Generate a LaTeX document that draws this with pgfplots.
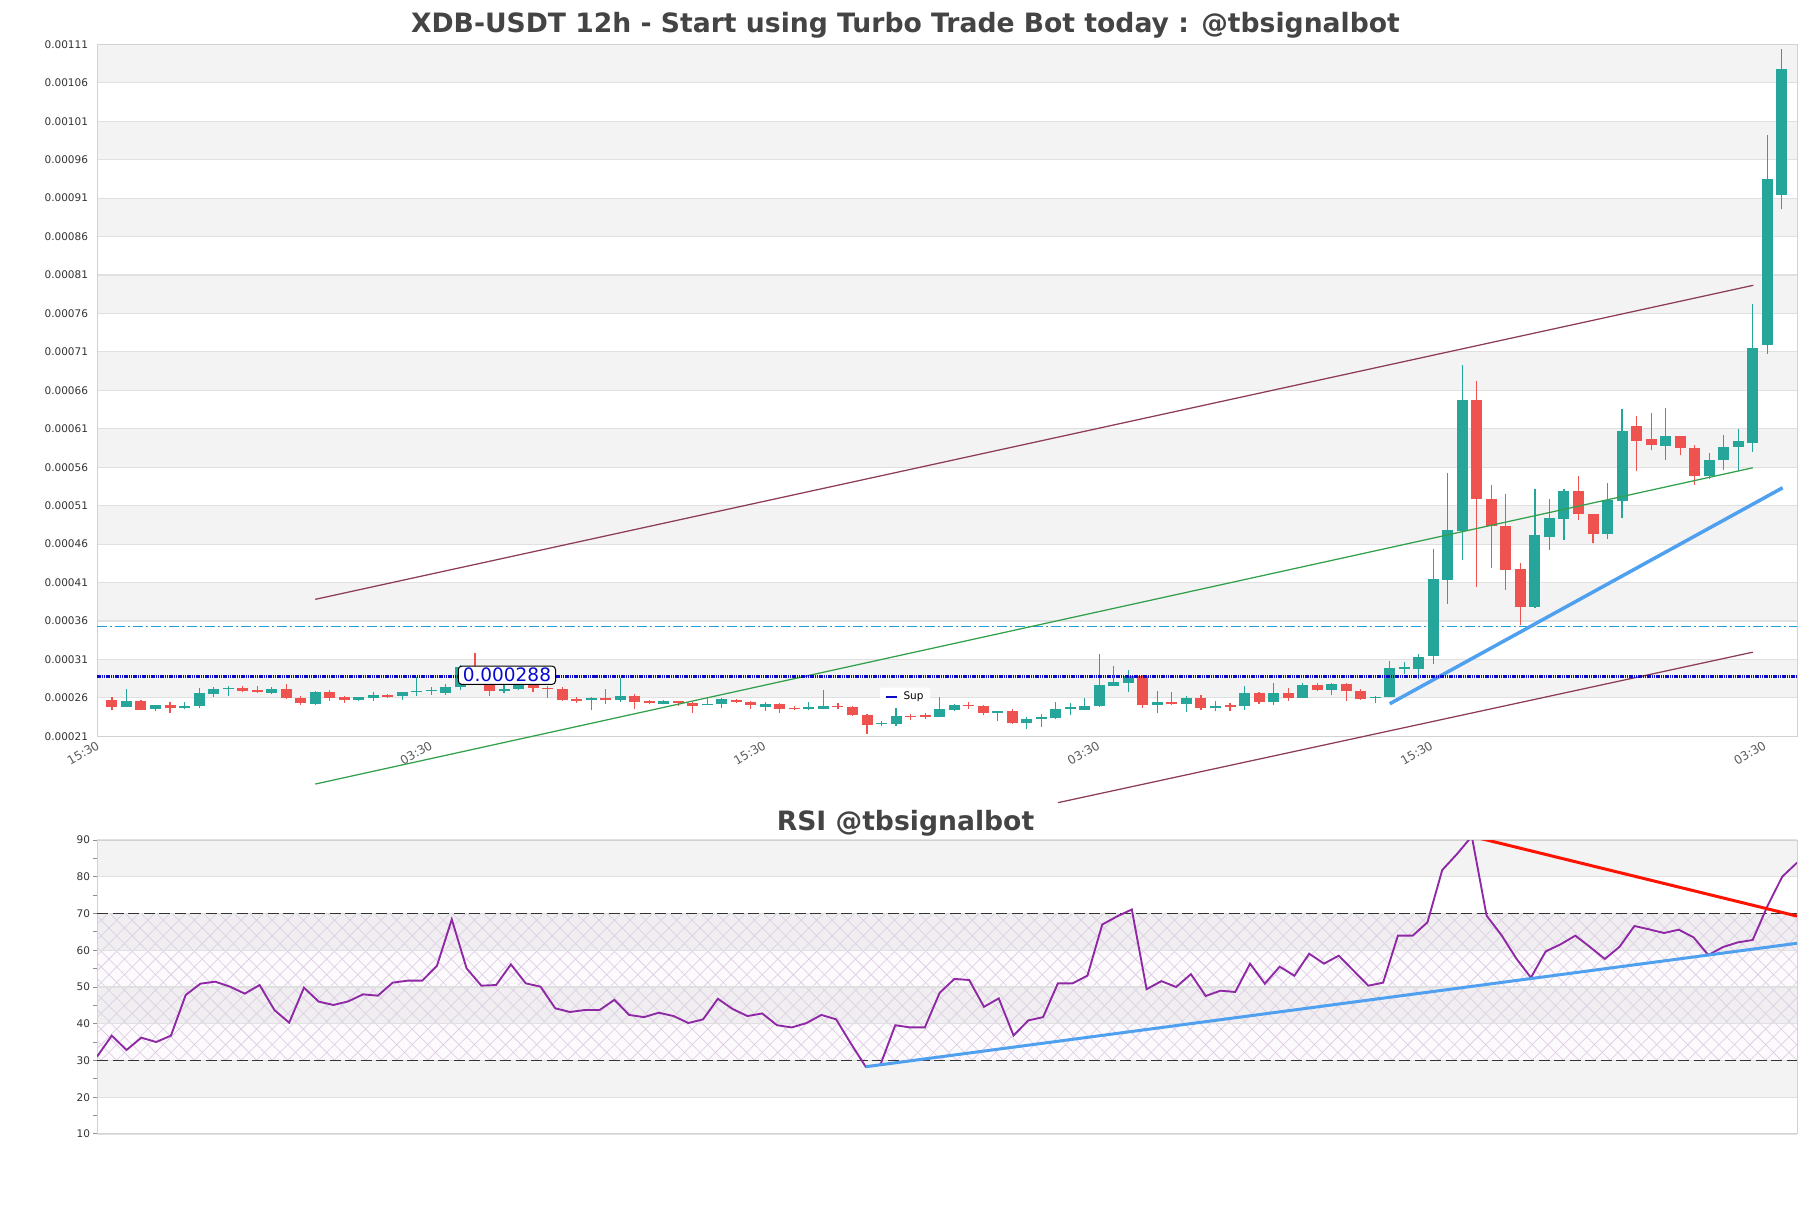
\documentclass[border=0pt]{standalone}
\usepackage{fontspec}
\setmainfont{DejaVu Sans}
\usepackage{pgfplots}
\pgfplotsset{compat=1.18}
\usepackage{pgfplotstable}
\usetikzlibrary{patterns.meta}

\definecolor{upc}{HTML}{26A69A}
\definecolor{dnc}{HTML}{EF5350}
\definecolor{band}{HTML}{F3F3F3}
\definecolor{gridc}{HTML}{E0E0E0}
\definecolor{framec}{HTML}{D2D2D2}
\definecolor{titlec}{HTML}{444444}
\definecolor{labc}{HTML}{333333}
\definecolor{chan}{RGB}{140,60,85}
\definecolor{trendg}{RGB}{50,160,75}
\definecolor{trendb}{RGB}{80,160,240}
\definecolor{rsic}{RGB}{142,40,165}
\definecolor{supc}{RGB}{10,10,200}
\definecolor{resc}{RGB}{30,160,210}
\definecolor{hatchc}{RGB}{222,208,228}

% prices in units of 1e-5 USDT, 12h candles
\pgfplotstableread{
i o h l c
0 25.74 26.09 24.38 24.80
1 24.76 27.15 24.76 25.66
2 25.66 25.79 24.38 24.46
3 24.59 25.10 24.33 25.10
4 25.10 25.44 24.03 24.72
5 24.72 25.53 24.50 24.97
6 24.89 27.24 24.72 26.60
7 26.56 27.37 26.17 27.15
8 27.15 27.50 26.30 27.28
9 27.28 27.50 26.73 26.90
10 27.07 27.50 26.68 26.73
11 26.68 27.37 26.51 27.11
12 27.15 27.79 25.87 25.96
13 25.96 26.30 25.02 25.32
14 25.15 26.94 25.10 26.73
15 26.73 27.03 25.57 26.04
16 26.09 26.30 25.36 25.74
17 25.74 26.17 25.57 26.09
18 26.04 26.73 25.66 26.38
19 26.38 26.56 26.00 26.17
20 26.21 26.81 25.79 26.73
21 26.73 28.78 26.21 26.90
22 26.85 27.45 26.43 26.90
23 26.68 27.79 26.43 27.41
24 27.40 30.30 27.00 30.00
25 28.00 31.90 27.80 27.85
26 28.00 28.05 26.30 26.94
27 26.94 27.70 26.60 27.15
28 27.10 28.40 27.00 28.10
29 28.00 28.20 26.73 27.24
30 27.24 27.58 25.96 27.15
31 27.15 27.37 25.66 25.79
32 25.83 26.17 25.36 25.66
33 25.74 26.09 24.38 25.87
34 25.83 27.15 25.23 25.74
35 25.79 28.65 25.44 26.21
36 26.21 26.51 24.59 25.44
37 25.57 25.79 25.15 25.32
38 25.27 25.79 25.15 25.66
39 25.57 25.66 24.93 25.32
40 25.36 25.44 24.03 24.89
41 25.02 26.09 25.02 25.10
42 25.15 25.96 24.68 25.87
43 25.74 25.87 25.32 25.44
44 25.53 25.66 24.59 25.02
45 24.85 25.44 24.29 25.27
46 25.23 25.36 24.08 24.59
47 24.72 24.93 24.42 24.55
48 24.55 25.53 24.46 24.76
49 24.59 27.03 24.55 24.93
50 24.93 25.36 24.59 24.80
51 24.80 24.93 23.65 23.74
52 23.82 23.95 21.30 22.54
53 22.58 22.97 22.32 22.79
54 22.67 24.68 22.32 23.65
55 23.61 23.95 23.09 23.48
56 23.60 24.08 23.22 23.55
57 23.48 26.09 23.48 24.59
58 24.46 25.19 24.29 25.10
59 25.06 25.44 24.50 24.89
60 24.93 25.10 23.74 24.03
61 24.03 24.29 23.00 24.29
62 24.29 24.59 22.67 22.75
63 22.75 23.52 21.94 23.31
64 23.31 23.91 22.24 23.48
65 23.35 25.44 23.26 24.59
66 24.59 25.32 23.74 24.72
67 24.46 26.00 24.38 24.97
68 24.89 31.77 24.80 27.67
69 27.58 30.15 27.50 28.09
70 28.00 29.59 26.73 28.86
71 28.86 28.95 24.68 25.02
72 25.02 26.90 24.03 25.44
73 25.44 26.73 25.02 25.15
74 25.15 26.21 24.16 26.00
75 26.00 26.43 24.46 24.68
76 24.68 25.57 24.25 24.93
77 24.93 25.36 24.33 24.85
78 24.89 27.58 24.38 26.60
79 26.60 26.73 25.19 25.44
80 25.44 27.88 25.02 26.60
81 26.60 27.24 25.57 26.04
82 26.04 28.00 25.96 27.67
83 27.67 27.88 26.85 27.07
84 27.07 27.92 26.38 27.80
85 27.75 28.00 25.66 26.85
86 26.85 27.15 25.79 25.87
87 25.96 26.30 25.32 26.13
88 26.10 30.74 26.10 29.87
89 29.80 30.66 29.14 29.87
90 29.79 31.74 28.40 31.30
91 31.39 45.31 30.44 41.49
92 41.40 55.28 38.24 47.86
93 47.69 69.32 44.00 64.68
94 64.77 67.28 40.40 51.89
95 51.89 53.70 42.88 48.30
96 48.30 52.54 40.10 42.70
97 42.79 43.57 35.42 37.89
98 37.89 53.20 37.68 47.13
99 46.99 51.81 45.30 49.42
100 49.29 53.20 46.56 52.93
101 52.93 54.84 49.20 49.86
102 49.94 49.94 46.13 47.26
103 47.26 53.98 46.61 51.68
104 51.55 63.60 49.42 60.65
105 61.30 62.60 55.45 59.35
106 59.70 63.08 58.18 58.83
107 58.70 63.73 57.00 60.04
108 60.04 60.04 57.53 58.48
109 58.53 58.92 53.70 54.84
110 54.84 57.83 54.50 56.97
111 56.88 60.22 55.70 58.61
112 58.61 61.00 55.45 59.39
113 59.17 77.27 58.04 71.49
114 71.84 99.27 70.76 93.54
115 91.37 110.34 89.55 107.74
}\candles

\pgfplotstableread{
i r
0 31.04
1 36.76
2 32.86
3 36.21
4 35.03
5 36.76
6 47.83
7 50.91
8 51.45
9 50.09
10 48.19
11 50.54
12 43.74
13 40.29
14 49.82
15 46.01
16 45.10
17 46.10
18 48.00
19 47.64
20 51.18
21 51.72
22 51.72
23 55.80
24 68.41
25 55.08
26 50.36
27 50.54
28 56.17
29 51.00
30 50.09
31 44.20
32 43.20
33 43.74
34 43.74
35 46.50
36 42.40
37 41.80
38 43.00
39 42.10
40 40.20
41 41.20
42 46.80
43 44.00
44 42.10
45 42.80
46 39.60
47 39.00
48 40.20
49 42.40
50 41.20
51 34.60
52 28.30
53 28.90
54 39.60
55 39.00
56 39.00
57 48.40
58 52.20
59 51.90
60 44.60
61 46.90
62 36.80
63 40.90
64 41.80
65 51.00
66 51.00
67 53.10
68 67.00
69 69.20
70 71.10
71 49.40
72 51.60
73 50.00
74 53.50
75 47.55
76 49.00
77 48.64
78 56.35
79 50.91
80 55.53
81 53.08
82 59.07
83 56.35
84 58.53
85 54.44
86 50.36
87 51.18
88 63.97
89 63.97
90 67.60
91 81.84
92 86.19
93 91.00
94 69.41
95 64.15
96 57.80
97 52.54
98 59.70
99 61.60
100 63.97
101 60.88
102 57.62
103 60.97
104 66.60
105 65.69
106 64.69
107 65.60
108 63.51
109 58.71
110 60.88
111 62.15
112 62.79
113 72.04
114 80.02
115 83.83
}\rsi

\newcommand{\ticksize}{\fontsize{4.2}{5}\selectfont}
\pgfplotsset{
  candle/.style={only marks, mark=*, mark size=0pt,
    mark options={draw=none, fill=none},
    error bars/y dir=plus, error bars/y explicit, error bars/error mark=none,
    error bars/error bar style={#1}},
}

\begin{document}
\begin{tikzpicture}

% ---------- price panel ----------
\begin{axis}[
  at={(38.8pt,188.64pt)}, anchor=south west,
  width=680pt, height=276.84pt, scale only axis,
  xmin=-1.03, xmax=116.05, ymin=21, ymax=111,
  clip=false, set layers,
  axis line style={framec, line width=0.4pt},
  ymajorgrids, grid style={gridc, line width=0.45pt},
  major tick length=0pt,
  ytick={21,26,...,111},
  yticklabels={0.00021,0.00026,0.00031,0.00036,0.00041,0.00046,0.00051,0.00056,0.00061,0.00066,0.00071,0.00076,0.00081,0.00086,0.00091,0.00096,0.00101,0.00106,0.00111},
  xtick={-1.03,21.9,44.87,67.86,90.8,113.75},
  xticklabels={15:30,03:30,15:30,03:30,15:30,03:30},
  tick label style={font=\ticksize, text=labc},
  yticklabel style={inner sep=1pt, xshift=-2.4pt},
  xticklabel style={rotate=30, anchor=north east, inner sep=1pt, text=labc!80,
                    font=\fontsize{4.8}{5.5}\selectfont},
]
\begin{pgfonlayer}{axis background}
\fill[band] (axis cs:-1.03,26) rectangle (axis cs:116.05,31);
\fill[band] (axis cs:-1.03,36) rectangle (axis cs:116.05,41);
\fill[band] (axis cs:-1.03,46) rectangle (axis cs:116.05,51);
\fill[band] (axis cs:-1.03,56) rectangle (axis cs:116.05,61);
\fill[band] (axis cs:-1.03,66) rectangle (axis cs:116.05,71);
\fill[band] (axis cs:-1.03,76) rectangle (axis cs:116.05,81);
\fill[band] (axis cs:-1.03,86) rectangle (axis cs:116.05,91);
\fill[band] (axis cs:-1.03,96) rectangle (axis cs:116.05,101);
\fill[band] (axis cs:-1.03,106) rectangle (axis cs:116.05,111);
\end{pgfonlayer}

% resistance level
\addplot[resc, line width=0.5pt, dash pattern=on 4pt off 1.3pt on 0.6pt off 1.3pt]
  coordinates {(-1.03,35.27) (116.05,35.27)};

% wicks
\addplot[candle={upc, line width=0.45pt},
  restrict expr to domain={\thisrow{c}-\thisrow{o}}{0:1000}]
  table[x=i, y=l, y error expr={\thisrow{h}-\thisrow{l}}] {\candles};
\addplot[candle={dnc, line width=0.45pt},
  restrict expr to domain={\thisrow{c}-\thisrow{o}}{-1000:-0.00001}]
  table[x=i, y=l, y error expr={\thisrow{h}-\thisrow{l}}] {\candles};
% bodies
\addplot[candle={upc, line width=4.4pt},
  restrict expr to domain={\thisrow{c}-\thisrow{o}}{0:1000}]
  table[x=i, y expr={min(\thisrow{o},\thisrow{c})},
        y error expr={max(abs(\thisrow{c}-\thisrow{o}),0.2)}] {\candles};
\addplot[candle={dnc, line width=4.4pt},
  restrict expr to domain={\thisrow{c}-\thisrow{o}}{-1000:-0.00001}]
  table[x=i, y expr={min(\thisrow{o},\thisrow{c})},
        y error expr={max(abs(\thisrow{c}-\thisrow{o}),0.2)}] {\candles};

% trend lines
\addplot[chan, line width=0.5pt] coordinates {(14.0,38.82) (113.04,79.66)};
\addplot[chan, line width=0.5pt] coordinates {(65.15,12.38) (113.0,31.95)};
\addplot[trendg, line width=0.5pt] coordinates {(14.0,14.8) (113.0,55.93)};
\addplot[trendb, line width=1.4pt] coordinates {(88.0,25.24) (115.06,53.33)};

% support level
\addplot[supc, line width=1.1pt, dash pattern=on 0.6pt off 0.3pt]
  coordinates {(-1.03,28.8) (116.05,28.8)};

\node[fill=white, draw=black, rounded corners=1.5pt, inner xsep=1.8pt, inner ysep=0.9pt,
      line width=0.4pt, text=supc!80!blue, font=\fontsize{7.4}{8}\selectfont]
  at (axis cs:27.2,28.95) {0.000288};
\node[fill=white, rounded corners=1pt, inner xsep=2.5pt, inner ysep=1.8pt, font=\ticksize]
  at (axis cs:54.6,26.12) {\textcolor{supc}{\rule[0.3ex]{4.4pt}{0.9pt}}\hspace{2.6pt}Sup};
\end{axis}

\node[anchor=base, font=\fontsize{10.65}{12}\selectfont\bfseries, text=titlec]
  at (362.2pt,470.3pt) {XDB-USDT 12h - Start using Turbo Trade Bot today : @tbsignalbot};
\node[anchor=base, font=\fontsize{10.65}{12}\selectfont\bfseries, text=titlec]
  at (362.2pt,151pt) {RSI @tbsignalbot};

% ---------- RSI panel ----------
\begin{axis}[
  at={(38.8pt,29.6pt)}, anchor=south west,
  width=680pt, height=117.6pt, scale only axis,
  xmin=0, xmax=115, ymin=10, ymax=90,
  set layers,
  axis line style={framec, line width=0.4pt},
  ymajorgrids, grid style={gridc, line width=0.45pt},
  xtick=\empty,
  ytick={10,20,...,90}, minor ytick={15,25,...,85},
  ytick pos=left,
  tick align=outside, major tick length=1.6pt, minor tick length=1.6pt,
  tick style={labc!55, line width=0.4pt},
  yticklabel style={font=\ticksize, text=labc, inner sep=1pt},
  /pgf/number format/assume math mode=true,
]
\begin{pgfonlayer}{axis background}
\fill[band] (axis cs:0,20) rectangle (axis cs:115,30);
\fill[band] (axis cs:0,40) rectangle (axis cs:115,50);
\fill[band] (axis cs:0,60) rectangle (axis cs:115,70);
\fill[band] (axis cs:0,80) rectangle (axis cs:115,90);
\fill[violet, opacity=0.02] (axis cs:0,30) rectangle (axis cs:115,70);
\fill[pattern={Lines[angle=45,distance=4.4pt,line width=0.3pt]}, pattern color=hatchc]
  (axis cs:0,30) rectangle (axis cs:115,70);
\fill[pattern={Lines[angle=-45,distance=4.4pt,line width=0.3pt]}, pattern color=hatchc]
  (axis cs:0,30) rectangle (axis cs:115,70);
\end{pgfonlayer}

\addplot[labc, line width=0.45pt, dash pattern=on 4.4pt off 1.8pt] coordinates {(0,30) (115,30)};
\addplot[labc, line width=0.45pt, dash pattern=on 4.4pt off 1.8pt] coordinates {(0,70) (115,70)};

\addplot[rsic, line width=0.75pt] table[x=i, y=r] {\rsi};

\addplot[trendb, line width=1.2pt] coordinates {(52,28.3) (115,61.9)};
\addplot[red!85!orange, line width=1.2pt] coordinates {(93,91) (115,69.3)};
\end{axis}

\pgfresetboundingbox
\useasboundingbox (0,0) rectangle (724.4pt,483.2pt);
\end{tikzpicture}
\end{document}
